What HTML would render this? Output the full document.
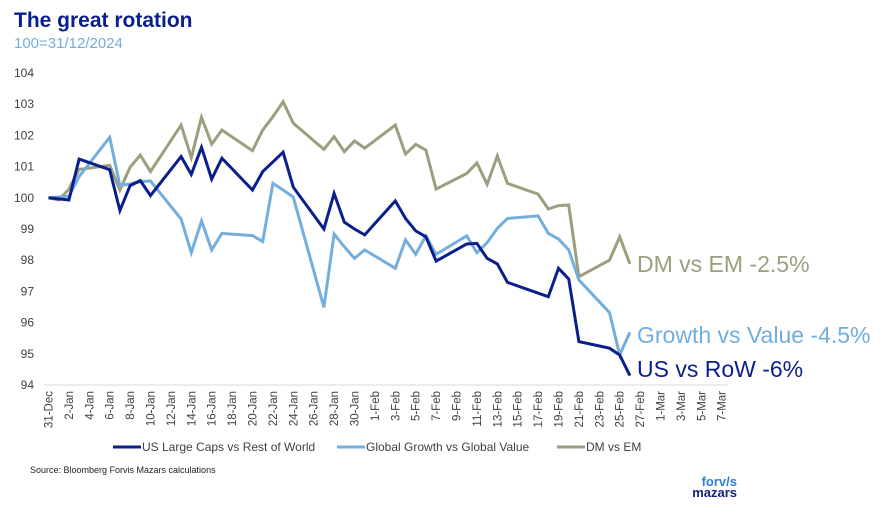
<!DOCTYPE html>
<html><head><meta charset="utf-8"><style>
body{margin:0;background:#fff;font-family:"Liberation Sans",Arial,sans-serif;}
svg{display:block}
</style></head><body>
<svg id="chart" width="885" height="512" viewBox="0 0 885 512" font-family="Liberation Sans, Arial, sans-serif">
<text x="14" y="27" font-size="21" font-weight="bold" fill="#0b1f8c">The great rotation</text>
<text x="14" y="48" font-size="15" fill="#74aedc">100=31/12/2024</text>
<g id="yaxis"></g>
<g id="xaxis"></g>
<line x1="44" y1="385" x2="728" y2="385" stroke="#d9d9d9" stroke-width="1"/>
<g id="series"></g>
<text x="637" y="272" font-size="23" fill="#9c9e7e">DM vs EM -2.5%</text>
<text x="637" y="343" font-size="23" fill="#74aedc">Growth vs Value -4.5%</text>
<text x="637" y="377" font-size="23" fill="#0b1f8c">US vs RoW -6%</text>
<g font-size="12" fill="#404040">
<g><line x1="113" y1="447" x2="141" y2="447" stroke="#0b1f8c" stroke-width="3"/><text x="142" y="451">US Large Caps vs Rest of World</text></g>
<g><line x1="337" y1="447" x2="365" y2="447" stroke="#74aedc" stroke-width="3"/><text x="366" y="451">Global Growth vs Global Value</text></g>
<g><line x1="557" y1="447" x2="585" y2="447" stroke="#9c9e7e" stroke-width="3"/><text x="586" y="451">DM vs EM</text></g>
</g>
<text x="30" y="473" font-size="9" fill="#222">Source: Bloomberg Forvis Mazars calculations</text>
<g font-weight="bold" text-anchor="end">
<text x="737" y="486" font-size="13" fill="#2f7fd8">forv/s</text>
<text x="737" y="497" font-size="13" fill="#16237e">mazars</text>
</g>
</svg>
<script>
const tickLabels=["31-Dec","2-Jan","4-Jan","6-Jan","8-Jan","10-Jan","12-Jan","14-Jan","16-Jan","18-Jan","20-Jan","22-Jan","24-Jan","26-Jan","28-Jan","30-Jan","1-Feb","3-Feb","5-Feb","7-Feb","9-Feb","11-Feb","13-Feb","15-Feb","17-Feb","19-Feb","21-Feb","23-Feb","25-Feb","27-Feb","1-Mar","3-Mar","5-Mar","7-Mar"];
const yTicks=[94,95,96,97,98,99,100,101,102,103,104];
const usDays=[0,2,3,6,7,8,9,10,13,14,15,16,17,20,21,22,23,24,27,28,29,30,31,34,35,36,37,38,41,42,43,44,45,49,50,51,52,55,56,57];
const usVals=[100,99.93,101.24,100.9,99.59,100.39,100.55,100.07,101.32,100.75,101.62,100.6,101.27,100.25,100.84,101.15,101.46,100.34,99.0,100.14,99.22,99.0,98.81,99.9,99.34,98.94,98.75,97.97,98.52,98.54,98.06,97.88,97.29,96.83,97.74,97.4,95.39,95.18,94.96,94.3];
const gvDays=[0,2,3,6,7,8,9,10,13,14,15,16,17,20,21,22,23,24,27,28,29,30,31,34,35,36,37,38,41,42,43,44,45,48,49,50,51,52,55,56,57];
const gvVals=[100,100.05,100.68,101.94,100.39,100.45,100.52,100.54,99.32,98.24,99.26,98.33,98.86,98.79,98.6,100.46,100.25,100.02,96.49,98.84,98.43,98.06,98.33,97.74,98.65,98.19,98.78,98.19,98.78,98.24,98.56,99.02,99.34,99.42,98.86,98.68,98.33,97.37,96.32,94.96,95.69];
const dmDays=[0,1,2,3,6,7,8,9,10,13,14,15,16,17,20,21,22,23,24,27,28,29,30,31,34,35,36,37,38,41,42,43,44,45,48,49,50,51,52,55,56,57];
const dmVals=[100,99.93,100.28,100.91,101.04,100.25,100.98,101.37,100.84,102.33,101.29,102.58,101.72,102.17,101.51,102.17,102.6,103.08,102.39,101.55,101.96,101.48,101.82,101.59,102.33,101.4,101.71,101.53,100.28,100.78,101.12,100.43,101.34,100.46,100.12,99.64,99.75,99.77,97.47,98.0,98.75,97.88];
const NS="http://www.w3.org/2000/svg";
const xScale=d=>48.5+d*10.2;
const yScale=v=>385-(v-94)*31.2;
const ya=document.getElementById('yaxis');
yTicks.forEach(v=>{
  const t=document.createElementNS(NS,'text');
  
  
  t.setAttribute('x',34);t.setAttribute('y',yScale(v)+4);
  t.setAttribute('text-anchor','end');t.setAttribute('font-size','12');t.setAttribute('fill','#404040');
  t.textContent=v;ya.appendChild(t);
});
const xa=document.getElementById('xaxis');
tickLabels.forEach((l,i)=>{
  const x=xScale(i*2)+4;
  const t=document.createElementNS(NS,'text');
  
  
  t.setAttribute('transform','translate('+x+',391) rotate(-90)');
  t.setAttribute('text-anchor','end');t.setAttribute('font-size','11.5');t.setAttribute('fill','#404040');
  t.textContent=l;xa.appendChild(t);
});
const sg=document.getElementById('series');
function draw(days,vals,color,name){
  const p=document.createElementNS(NS,'polyline');
  
  
  p.setAttribute('points',days.map((d,i)=>xScale(d).toFixed(1)+','+yScale(vals[i]).toFixed(1)).join(' '));
  p.setAttribute('fill','none');p.setAttribute('stroke',color);p.setAttribute('stroke-width','3');
  p.setAttribute('stroke-linejoin','miter');
  sg.appendChild(p);
}
draw(dmDays,dmVals,'#9c9e7e','dm-vs-em-line');
draw(gvDays,gvVals,'#74aedc','growth-vs-value-line');
draw(usDays,usVals,'#0b1f8c','us-vs-row-line');
</script>
</body></html>
